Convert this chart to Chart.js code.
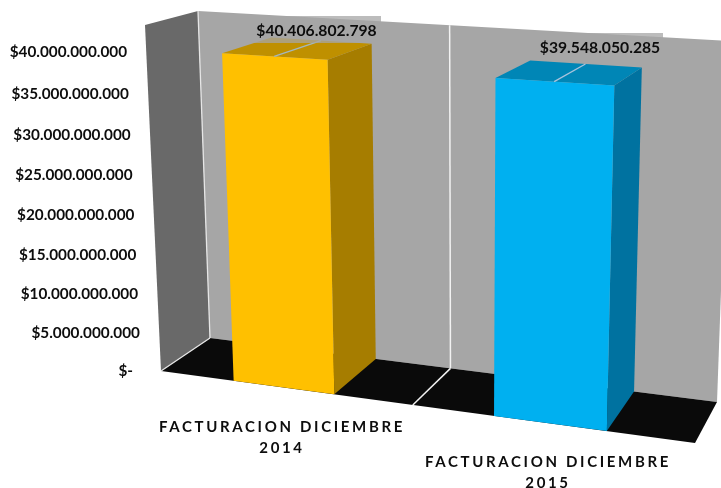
<!DOCTYPE html>
<html>
<head>
<meta charset="utf-8">
<style>html,body{margin:0;padding:0;background:#fff}canvas{display:block}</style>
<script src="https://cdn.jsdelivr.net/npm/chart.js@4/dist/chart.umd.js"></script>
</head>
<body>
<canvas id="c" width="721" height="488"></canvas>
<script>
const categories = [["FACTURACION DICIEMBRE", "2014"], ["FACTURACION DICIEMBRE", "2015"]];
const values = [40406802798, 39548050285];
const valueLabels = ["$40.406.802.798", "$39.548.050.285"];
const tickValues = [0, 5e9, 10e9, 15e9, 20e9, 25e9, 30e9, 35e9, 40e9];
const tickLabels = ["$-", "$5.000.000.000", "$10.000.000.000", "$15.000.000.000", "$20.000.000.000", "$25.000.000.000", "$30.000.000.000", "$35.000.000.000", "$40.000.000.000"];
const frontColors = ["#ffc000", "#00b0f0"];
const sideColors = ["#a67d00", "#0072a0"];
const topColors = ["#bf9000", "#0086b6"];
const ridgeColors = ["#a3b7c0", "#a9c3dc"];
const axisMax = 43.2e9;

// Camera: screen corners of the front and back planes of the plot box (bl, br, tr, tl)
const frontPlane = [[161, 371], [695, 443], [708.6, 57], [145, 25]];
const backPlane = [[210, 338], [717, 402], [730, 41], [198, 11]];
const FONT = "Lato, 'Open Sans', sans-serif";

function quadMap(q) {
  const [p0, p1, p2, p3] = q;
  const sx = p0[0] - p1[0] + p2[0] - p3[0], sy = p0[1] - p1[1] + p2[1] - p3[1];
  const dx1 = p1[0] - p2[0], dx2 = p3[0] - p2[0], dy1 = p1[1] - p2[1], dy2 = p3[1] - p2[1];
  const den = dx1 * dy2 - dx2 * dy1;
  const g = (sx * dy2 - dx2 * sy) / den, h = (dx1 * sy - sx * dy1) / den;
  const a = p1[0] - p0[0] + g * p1[0], b = p3[0] - p0[0] + h * p3[0], c = p0[0];
  const d = p1[1] - p0[1] + g * p1[1], e = p3[1] - p0[1] + h * p3[1], f = p0[1];
  return (u, v) => {
    const w = g * u + h * v + 1;
    return [(a * u + b * v + c) / w, (d * u + e * v + f) / w];
  };
}
const mapF = quadMap(frontPlane), mapB = quadMap(backPlane);

function uv(chart, x, y) {
  const a = chart.chartArea;
  return [(x - a.left) / (a.right - a.left), (a.bottom - y) / (a.bottom - a.top)];
}
const F = (chart, x, y) => mapF(...uv(chart, x, y));
const B = (chart, x, y) => mapB(...uv(chart, x, y));

function poly(ctx, pts, fill) {
  ctx.beginPath();
  pts.forEach((p, i) => i ? ctx.lineTo(p[0], p[1]) : ctx.moveTo(p[0], p[1]));
  ctx.closePath();
  ctx.fillStyle = fill;
  ctx.fill();
}
function line(ctx, a, b, color, w) {
  ctx.beginPath();
  ctx.moveTo(a[0], a[1]);
  ctx.lineTo(b[0], b[1]);
  ctx.strokeStyle = color;
  ctx.lineWidth = w;
  ctx.stroke();
}

// Bars keep the library's geometry; only the way a bar is painted goes through the camera.
Chart.BarElement.prototype.draw = function (ctx) {
  const chart = this.$context.chart, i = this.$context.dataIndex;
  const { x, y, base, width } = this.getProps(["x", "y", "base", "width"], true);
  const l = x - width / 2, r = x + width / 2;
  ctx.save();
  poly(ctx, [F(chart, r, base), B(chart, r, base), B(chart, r, y), F(chart, r, y)], sideColors[i]);
  poly(ctx, [F(chart, l, y), F(chart, r, y), B(chart, r, y), B(chart, l, y)], topColors[i]);
  poly(ctx, [F(chart, l, base), F(chart, r, base), F(chart, r, y), F(chart, l, y)], this.options.backgroundColor);
  line(ctx, F(chart, x, y), B(chart, x, y), ridgeColors[i], 1.3);
  ctx.restore();
};

const yLabelRight = v => v === 0 ? 133 : 127 + (40e9 - v) / 5e9 * 1.85;
const yLabelBow = v => { const n = v / 5e9; return 0.25 * n * (8 - n); };
const xLabelPlace = [[282, 416], [548, 451]];
const valueBoxes = [[254, 16, 127, 27], [532, 33, 131, 27]];
const valueCentres = [[316.5, 30.5], [600, 48]];

const box3d = {
  id: "box3d",
  beforeDraw(chart) {
    const ys = chart.scales.y, xs = chart.scales.x;
    ys.getLabelItems().forEach((it, i) => {
      const v = ys.ticks[i].value;
      it.options.translation = [yLabelRight(v), ys.getPixelForValue(v) + yLabelBow(v)];
    });
    xs.getLabelItems().forEach((it, i) => {
      it.options.translation = [xLabelPlace[i][0], xLabelPlace[i][1]];
    });
    if (!xs.__spaced) {
      xs.__spaced = true;
      const orig = xs.drawLabels;
      xs.drawLabels = function (area) {
        chart.ctx.letterSpacing = "2.65px";
        orig.call(this, area);
        chart.ctx.letterSpacing = "0px";
      };
    }
  },
  beforeDatasetsDraw(chart) {
    const ctx = chart.ctx, a = chart.chartArea;
    const { left: L, right: R, top: T, bottom: Z } = a;
    ctx.save();
    poly(ctx, [B(chart, L, T), B(chart, R, T), B(chart, R, Z), B(chart, L, Z)], "#a6a6a6");
    poly(ctx, [F(chart, L, T), B(chart, L, T), B(chart, L, Z), F(chart, L, Z)], "#696969");
    poly(ctx, [F(chart, L, Z), F(chart, R, Z), B(chart, R, Z), B(chart, L, Z)], "#0a0a0a");
    const mid = (L + R) / 2;
    line(ctx, B(chart, L, T), B(chart, L, Z), "#e6e6e6", 1.3);
    line(ctx, B(chart, L, Z), F(chart, L, Z), "#e6e6e6", 1.3);
    line(ctx, B(chart, mid, T), B(chart, mid, Z), "#f2f2f2", 1.5);
    line(ctx, B(chart, mid, Z), F(chart, mid, Z), "#f2f2f2", 1.5);
    ctx.restore();
  },
  afterDatasetsDraw(chart) {
    const ctx = chart.ctx;
    ctx.save();
    valueLabels.forEach((text, i) => {
      const b = valueBoxes[i], c = valueCentres[i];
      ctx.fillStyle = "rgba(166,166,166,0.75)";
      ctx.fillRect(b[0], b[1], b[2], b[3]);
      ctx.fillStyle = "#0d0d0d";
      ctx.font = "bold 15.7px " + FONT;
      ctx.textAlign = "center";
      ctx.textBaseline = "middle";
      ctx.fillText(text, c[0], c[1]);
    });
    ctx.restore();
  }
};

new Chart(document.getElementById("c"), {
  type: "bar",
  data: {
    labels: categories,
    datasets: [{
      data: values,
      backgroundColor: frontColors,
      barPercentage: 0.4,
      categoryPercentage: 1,
      clip: false
    }]
  },
  options: {
    responsive: false,
    animation: false,
    layout: { padding: { top: 26.5, right: 26, bottom: 0, left: 0 } },
    plugins: { legend: { display: false }, tooltip: { enabled: false } },
    scales: {
      x: {
        grid: { display: false },
        border: { display: false },
        afterFit(s) { s.height = 117; },
        ticks: {
          maxRotation: 0,
          autoSkip: false,
          color: "#0d0d0d",
          font: { family: FONT, size: 15, weight: "bold", lineHeight: 1.45 }
        }
      },
      y: {
        min: 0,
        max: axisMax,
        grid: { display: false },
        border: { display: false },
        afterFit(s) { s.width = 161; },
        afterBuildTicks(s) { s.ticks = tickValues.map(value => ({ value })); },
        ticks: {
          autoSkip: false,
          color: "#0d0d0d",
          font: { family: FONT, size: 15.3, weight: "bold" },
          callback: v => tickLabels[tickValues.indexOf(v)]
        }
      }
    }
  },
  plugins: [box3d]
});
</script>
</body>
</html>
